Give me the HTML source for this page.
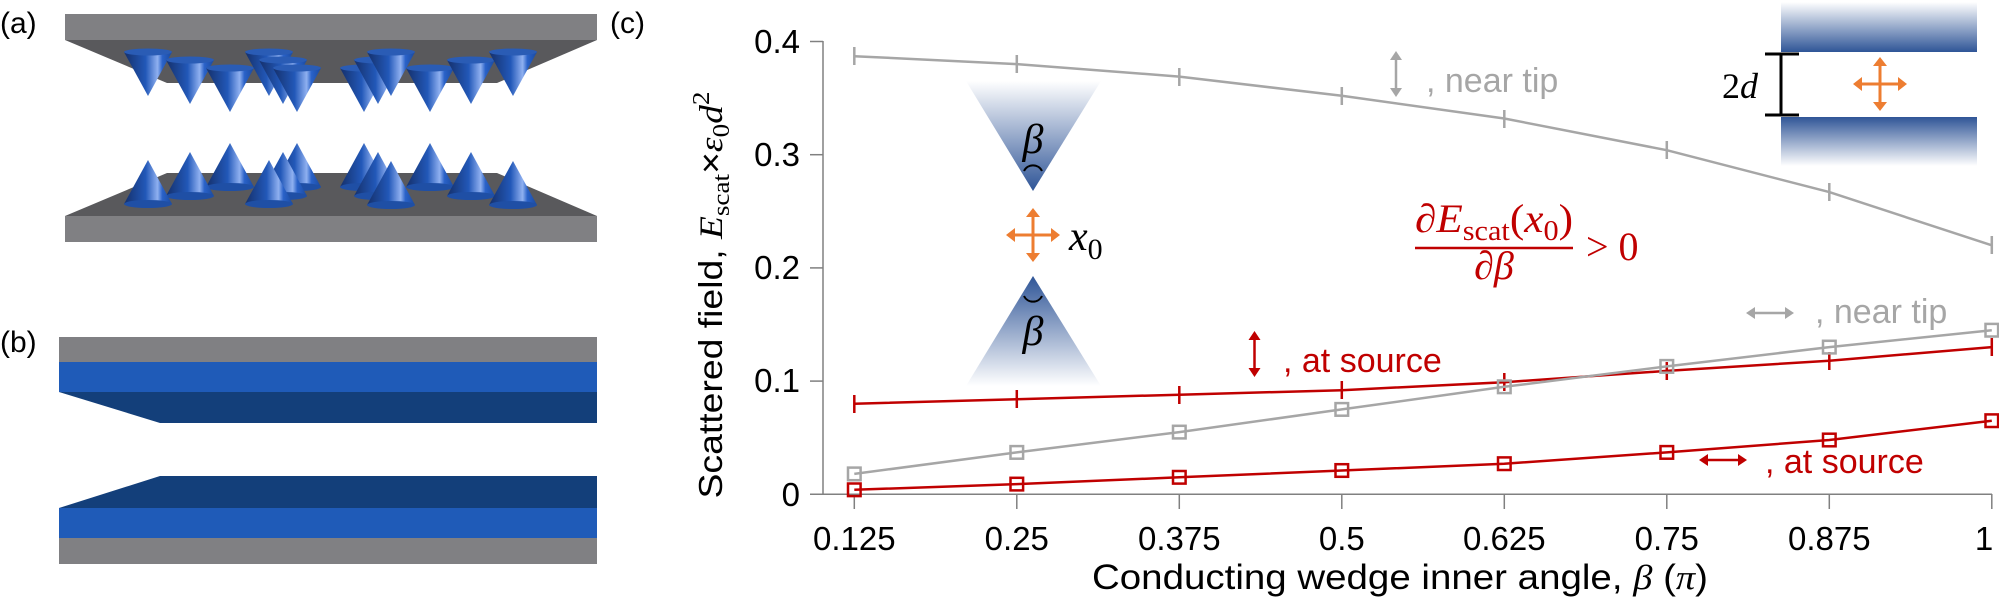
<!DOCTYPE html>
<html><head><meta charset="utf-8"><style>
html,body{margin:0;padding:0;background:#fff;}
svg{display:block;}
.s{font-family:"Liberation Sans",sans-serif;}
.m{font-family:"Liberation Serif",serif;font-style:italic;}
</style></head><body>
<svg width="1999" height="605" viewBox="0 0 1999 605" xmlns="http://www.w3.org/2000/svg">
<defs>
<linearGradient id="cone" x1="0" x2="1" y1="0" y2="0">
<stop offset="0" stop-color="#15306b"/><stop offset="0.45" stop-color="#2258b8"/><stop offset="0.7" stop-color="#8fb0f0"/><stop offset="0.8" stop-color="#2a62c8"/><stop offset="1" stop-color="#1a4aa0"/>
</linearGradient>
<linearGradient id="wt" x1="0" x2="0" y1="0" y2="1"><stop offset="0" stop-color="#fff"/><stop offset="1" stop-color="#2f5597"/></linearGradient>
<linearGradient id="wb" x1="0" x2="0" y1="1" y2="0"><stop offset="0" stop-color="#fff"/><stop offset="1" stop-color="#2f5597"/></linearGradient>
<g id="ct"><path d="M-24 0 L0 44 L24 0 Z" fill="url(#cone)"/><ellipse cx="0" cy="0" rx="24" ry="3.5" fill="#2a5cb5"/></g>
<g id="cb"><path d="M-24 44 L0 0 L24 44 Z" fill="url(#cone)"/><ellipse cx="0" cy="44" rx="24" ry="4" fill="#1f4fa5"/></g>
</defs>

<!-- (a) -->
<text x="0" y="33" class="s" font-size="30">(a)</text>
<rect x="65" y="14" width="532" height="26" fill="#808083"/>
<path d="M65 40 L597 40 L497 83 L167 83 Z" fill="#59595c"/>
<path d="M167 173 L497 173 L597 216 L65 216 Z" fill="#59595c"/>
<rect x="65" y="216" width="532" height="26" fill="#808083"/>
<g>
<use href="#ct" x="148" y="52"/><use href="#ct" x="190" y="60"/><use href="#ct" x="230" y="68"/>
<use href="#ct" x="269" y="52"/><use href="#ct" x="283" y="60"/><use href="#ct" x="297" y="68"/>
<use href="#ct" x="364" y="68"/><use href="#ct" x="378" y="60"/><use href="#ct" x="391" y="52"/>
<use href="#ct" x="430" y="68"/><use href="#ct" x="471" y="60"/><use href="#ct" x="513" y="52"/>
<use href="#cb" x="230" y="143"/><use href="#cb" x="190" y="152"/><use href="#cb" x="148" y="160"/>
<use href="#cb" x="297" y="143"/><use href="#cb" x="283" y="152"/><use href="#cb" x="269" y="160"/>
<use href="#cb" x="364" y="143"/><use href="#cb" x="378" y="152"/><use href="#cb" x="391" y="161"/>
<use href="#cb" x="430" y="143"/><use href="#cb" x="471" y="152"/><use href="#cb" x="513" y="161"/>
</g>

<!-- (b) -->
<text x="0" y="352" class="s" font-size="30">(b)</text>
<rect x="59" y="337" width="538" height="25" fill="#808083"/>
<rect x="59" y="362" width="538" height="30" fill="#1f5bb8"/>
<path d="M59 392 L597 392 L597 423 L160 423 Z" fill="#133f7a"/>
<path d="M160 476 L597 476 L597 508 L59 508 Z" fill="#133f7a"/>
<rect x="59" y="508" width="538" height="30" fill="#1f5bb8"/>
<rect x="59" y="538" width="538" height="26" fill="#808083"/>

<!-- (c) -->
<text x="610" y="33" class="s" font-size="30">(c)</text>
<g stroke="#808080" stroke-width="1.5" fill="none">
<line x1="823" y1="41" x2="823" y2="494"/>
<line x1="810" y1="494.3" x2="1992" y2="494.3"/>
<line x1="810" y1="41.5" x2="823" y2="41.5"/><line x1="810" y1="154.7" x2="823" y2="154.7"/>
<line x1="810" y1="267.9" x2="823" y2="267.9"/><line x1="810" y1="381.1" x2="823" y2="381.1"/>
<line x1="854.3" y1="494" x2="854.3" y2="509"/><line x1="1016.8" y1="494" x2="1016.8" y2="509"/>
<line x1="1179.3" y1="494" x2="1179.3" y2="509"/><line x1="1341.8" y1="494" x2="1341.8" y2="509"/>
<line x1="1504.3" y1="494" x2="1504.3" y2="509"/><line x1="1666.8" y1="494" x2="1666.8" y2="509"/>
<line x1="1829.3" y1="494" x2="1829.3" y2="509"/><line x1="1991.8" y1="494" x2="1991.8" y2="509"/>
</g>
<g class="s" font-size="33" text-anchor="end">
<text x="800" y="53">0.4</text><text x="800" y="166">0.3</text><text x="800" y="279">0.2</text>
<text x="800" y="392">0.1</text><text x="800" y="506">0</text>
</g>
<g class="s" font-size="33" text-anchor="middle">
<text x="854.3" y="550">0.125</text><text x="1016.8" y="550">0.25</text><text x="1179.3" y="550">0.375</text>
<text x="1341.8" y="550">0.5</text><text x="1504.3" y="550">0.625</text><text x="1666.8" y="550">0.75</text>
<text x="1829.3" y="550">0.875</text><text x="1984" y="550">1</text>
</g>
<text x="1092" y="589" class="s" font-size="35" textLength="616" lengthAdjust="spacingAndGlyphs">Conducting wedge inner angle,  <tspan class="m">β</tspan> (<tspan font-family="Liberation Serif,serif" font-style="italic">π</tspan>)</text>
<text transform="translate(722,295) rotate(-90)" class="s" font-size="33" text-anchor="middle" textLength="407" lengthAdjust="spacingAndGlyphs">Scattered field, <tspan class="m">E</tspan><tspan font-size="24" dy="7" font-family="Liberation Serif,serif">scat</tspan><tspan dy="-7">×</tspan><tspan class="m">ε</tspan><tspan font-size="24" dy="7" font-family="Liberation Serif,serif">0</tspan><tspan class="m" dy="-7">d</tspan><tspan font-size="24" dy="-13" font-family="Liberation Serif,serif">2</tspan></text>

<!-- series -->
<g fill="none" stroke-width="2.5">
<polyline stroke="#a6a6a6" points="854.3,56.2 1016.8,64.1 1179.3,76.6 1341.8,95.8 1504.3,118.5 1666.8,150.2 1829.3,192.1 1991.8,245.3"/>
<g stroke="#a6a6a6"><path d="M854.3 47v18M1016.8 55v18M1179.3 68v18M1341.8 87v18M1504.3 110v18M1666.8 141v18M1829.3 183v18M1991.8 236v18"/></g>
<polyline stroke="#c00000" points="854.3,403.7 1016.8,399.2 1179.3,394.7 1341.8,390.2 1504.3,382.2 1666.8,370.9 1829.3,360.7 1991.8,347.1"/>
<g stroke="#c00000"><path d="M854.3 395v18M1016.8 390v18M1179.3 386v18M1341.8 381v18M1504.3 373v18M1666.8 362v18M1829.3 352v18M1991.8 338v18"/></g>
<polyline stroke="#a6a6a6" points="854.3,473.9 1016.8,452.4 1179.3,432.1 1341.8,409.4 1504.3,386.8 1666.8,366.4 1829.3,347.1 1991.8,330.2"/>
<g stroke="#a6a6a6"><rect x="848" y="467.6" width="12.6" height="12.6"/><rect x="1010.5" y="446.1" width="12.6" height="12.6"/><rect x="1173" y="425.8" width="12.6" height="12.6"/><rect x="1335.5" y="403.1" width="12.6" height="12.6"/><rect x="1498" y="380.5" width="12.6" height="12.6"/><rect x="1660.5" y="360.1" width="12.6" height="12.6"/><rect x="1823" y="340.8" width="12.6" height="12.6"/><rect x="1985.5" y="323.9" width="12.6" height="12.6"/></g>
<polyline stroke="#c00000" points="854.3,489.8 1016.8,484.1 1179.3,477.3 1341.8,470.5 1504.3,463.7 1666.8,452.4 1829.3,440 1991.8,420.7"/>
<g stroke="#c00000"><rect x="848" y="483.5" width="12.6" height="12.6"/><rect x="1010.5" y="477.8" width="12.6" height="12.6"/><rect x="1173" y="471" width="12.6" height="12.6"/><rect x="1335.5" y="464.2" width="12.6" height="12.6"/><rect x="1498" y="457.4" width="12.6" height="12.6"/><rect x="1660.5" y="446.1" width="12.6" height="12.6"/><rect x="1823" y="433.7" width="12.6" height="12.6"/><rect x="1985.5" y="414.4" width="12.6" height="12.6"/></g>
</g>

<!-- wedge inset -->
<path d="M966 81 L1101 81 L1033 191 Z" fill="url(#wt)"/>
<path d="M966 386 L1101 386 L1033 276 Z" fill="url(#wb)"/>
<path d="M1024 171 A10 10 0 0 1 1042 171" fill="none" stroke="#000" stroke-width="2"/>
<path d="M1024 296 A10 10 0 0 0 1042 296" fill="none" stroke="#000" stroke-width="2"/>
<text x="1033" y="153" class="m" font-size="42" text-anchor="middle">β</text>
<text x="1033" y="345" class="m" font-size="42" text-anchor="middle">β</text>
<g stroke="#ed7d31" stroke-width="3">
<line x1="1009" y1="235" x2="1057" y2="235"/><line x1="1033" y1="211" x2="1033" y2="259"/>
</g>
<g fill="#ed7d31">
<path d="M1006 235 l9 -7 v14 Z"/><path d="M1060 235 l-9 -7 v14 Z"/><path d="M1033 208 l-7 9 h14 Z"/><path d="M1033 262 l-7 -9 h14 Z"/>
</g>
<text x="1069" y="250" class="m" font-size="42">x<tspan font-size="30" dy="9" font-style="normal">0</tspan></text>

<!-- plates inset -->
<rect x="1781" y="2" width="196" height="50" fill="url(#wt)"/>
<rect x="1781" y="117" width="196" height="49" fill="url(#wb)"/>
<g stroke="#000" stroke-width="3"><line x1="1781" y1="54" x2="1781" y2="115"/><line x1="1765" y1="54" x2="1799" y2="54"/><line x1="1765" y1="115" x2="1799" y2="115"/></g>
<text x="1758" y="98" font-family="Liberation Serif,serif" font-size="36" text-anchor="end">2<tspan font-style="italic">d</tspan></text>
<g stroke="#ed7d31" stroke-width="3"><line x1="1856" y1="84" x2="1904" y2="84"/><line x1="1880" y1="60" x2="1880" y2="108"/></g>
<g fill="#ed7d31"><path d="M1853 84 l9 -7 v14 Z"/><path d="M1907 84 l-9 -7 v14 Z"/><path d="M1880 57 l-7 9 h14 Z"/><path d="M1880 111 l-7 -9 h14 Z"/></g>

<!-- annotations -->
<g stroke="#a6a6a6" stroke-width="2.5"><line x1="1396" y1="55" x2="1396" y2="93"/></g>
<g fill="#a6a6a6"><path d="M1396 51 l-6 9 h12 Z"/><path d="M1396 97 l-6 -9 h12 Z"/></g>
<text x="1426" y="92" class="s" font-size="34" fill="#a6a6a6">, near tip</text>

<text x="1415" y="232" font-family="Liberation Serif,serif" font-size="40" fill="#c00000" textLength="158" lengthAdjust="spacingAndGlyphs"><tspan font-style="italic">∂E</tspan><tspan font-size="28" dy="8">scat</tspan><tspan dy="-8">(</tspan><tspan font-style="italic">x</tspan><tspan font-size="28" dy="8">0</tspan><tspan dy="-8">)</tspan></text>
<line x1="1415" y1="248" x2="1573" y2="248" stroke="#c00000" stroke-width="2.5"/>
<text x="1494" y="279" font-family="Liberation Serif,serif" font-style="italic" font-size="40" fill="#c00000" text-anchor="middle">∂β</text>
<text x="1586" y="260" font-family="Liberation Serif,serif" font-size="40" fill="#c00000">&gt; 0</text>

<g stroke="#a6a6a6" stroke-width="2.5"><line x1="1751" y1="313" x2="1789" y2="313"/></g>
<g fill="#a6a6a6"><path d="M1746 313 l9 -6 v12 Z"/><path d="M1794 313 l-9 -6 v12 Z"/></g>
<text x="1815" y="323" class="s" font-size="34" fill="#a6a6a6">, near tip</text>

<g stroke="#c00000" stroke-width="2.5"><line x1="1254.5" y1="336" x2="1254.5" y2="372"/></g>
<g fill="#c00000"><path d="M1254.5 331 l-6 9 h12 Z"/><path d="M1254.5 377 l-6 -9 h12 Z"/></g>
<text x="1283" y="372" class="s" font-size="34" fill="#c00000">, at source</text>

<g stroke="#c00000" stroke-width="2.5"><line x1="1704" y1="460" x2="1742" y2="460"/></g>
<g fill="#c00000"><path d="M1699 460 l9 -6 v12 Z"/><path d="M1747 460 l-9 -6 v12 Z"/></g>
<text x="1765" y="473" class="s" font-size="34" fill="#c00000">, at source</text>
</svg>
</body></html>
